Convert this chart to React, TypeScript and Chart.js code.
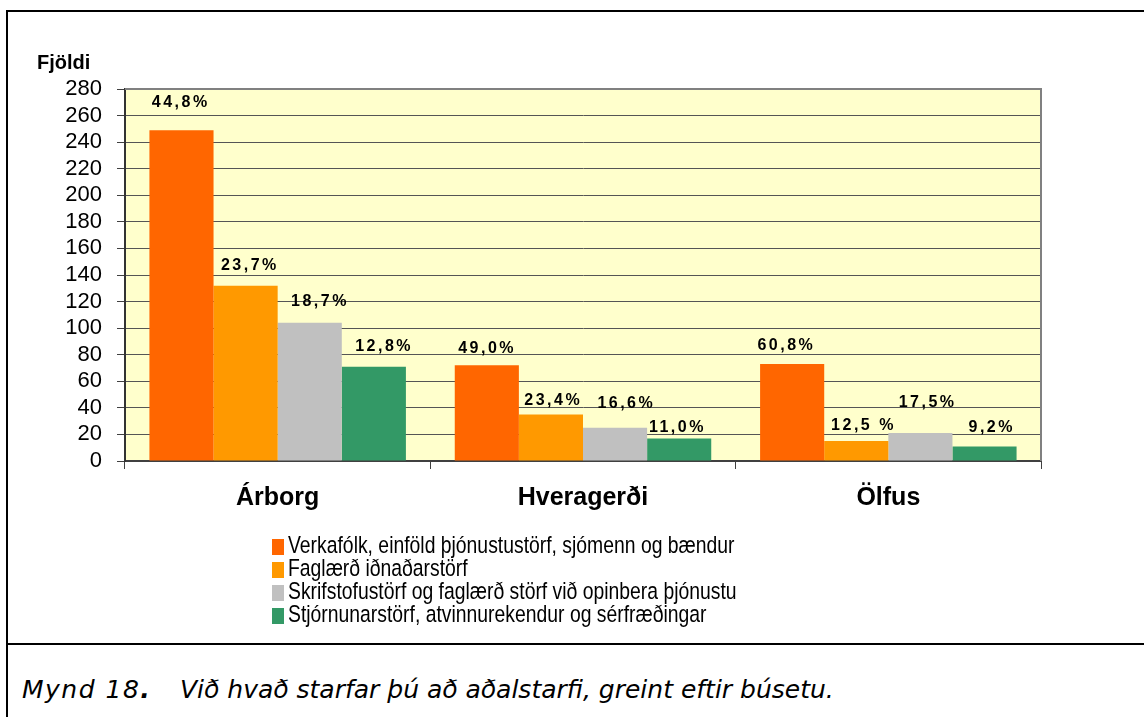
import React, { useEffect, useRef } from "react";
import { Chart, registerables } from "chart.js";

Chart.register(...registerables);

// ---- data ----
const CATEGORIES = ["Árborg", "Hveragerði", "Ölfus"];
const SERIES_NAMES = [
  "Verkafólk, einföld þjónustustörf, sjómenn og bændur",
  "Faglærð iðnaðarstörf",
  "Skrifstofustörf og faglærð störf við opinbera þjónustu",
  "Stjórnunarstörf, atvinnurekendur og sérfræðingar",
];
const VERKAFOLK = [249, 72, 73];
const FAGLAERD_IDN = [132, 35, 15];
const SKRIFSTOFA = [104, 25, 21];
const STJORNUN = [71, 17, 11];

const PCT_VERKAFOLK = ["44,8%", "49,0%", "60,8%"];
const PCT_FAGLAERD_IDN = ["23,7%", "23,4%", "12,5 %"];
const PCT_SKRIFSTOFA = ["18,7%", "16,6%", "17,5%"];
const PCT_STJORNUN = ["12,8%", "11,0%", "9,2%"];

const Y_MIN = 0;
const Y_MAX = 280;
const Y_STEP = 20;
const Y_TITLE = "Fjöldi";

// ---- styling ----
const COLORS = ["#FF6600", "#FF9900", "#C0C0C0", "#339966"];
// manual label nudges (px) as placed in the original
const LABEL_DX = [
  [-2, -1, -7],
  [3, 1, 6],
  [9, 10, 6],
  [9, -3, 6],
];
const LABEL_LIFT = [
  [28, 17, 18],
  [20, 14, 15],
  [21, 24, 31],
  [20, 11, 19],
];

const SANS = "'Liberation Sans', Arial, sans-serif";

const decorPlugin = {
  id: "decor",
  beforeDraw(chart: any) {
    const { ctx, chartArea: a } = chart;
    ctx.save();
    ctx.fillStyle = "#FFFFCC";
    ctx.fillRect(a.left, a.top, a.right - a.left, a.bottom - a.top);
    ctx.restore();
  },
  afterDatasetsDraw(chart: any) {
    const { ctx } = chart;
    const pcts = [PCT_VERKAFOLK, PCT_FAGLAERD_IDN, PCT_SKRIFSTOFA, PCT_STJORNUN];
    ctx.save();
    ctx.fillStyle = "#000";
    ctx.font = `bold 16px ${SANS}`;
    try {
      (ctx as any).letterSpacing = "2.5px";
    } catch (e) {}
    ctx.textAlign = "center";
    ctx.textBaseline = "middle";
    chart.data.datasets.forEach((ds: any, i: number) => {
      const meta = chart.getDatasetMeta(i);
      meta.data.forEach((el: any, j: number) => {
        ctx.fillText(pcts[i][j], el.x + LABEL_DX[i][j] + 1.25, el.y - LABEL_LIFT[i][j]);
      });
    });
    ctx.restore();
  },
  afterDraw(chart: any) {
    const { ctx, chartArea: a } = chart;
    ctx.save();
    // plot frame (top & right)
    ctx.strokeStyle = "#808080";
    ctx.lineWidth = 2;
    ctx.beginPath();
    ctx.moveTo(a.left, a.top);
    ctx.lineTo(a.right, a.top);
    ctx.lineTo(a.right, a.bottom);
    ctx.stroke();

    // y title
    ctx.fillStyle = "#000";
    ctx.font = `bold 20px ${SANS}`;
    ctx.textAlign = "left";
    ctx.textBaseline = "alphabetic";
    ctx.fillText(Y_TITLE, 37, 69);

    // legend
    const boxX = 272;
    const textX = 288;
    const base0 = 553;
    const step = 23;
    chart.data.datasets.forEach((ds: any, i: number) => {
      const by = base0 + step * i;
      ctx.fillStyle = ds.backgroundColor;
      ctx.fillRect(boxX, by - 14, 12, 16);
      ctx.save();
      ctx.translate(textX, by);
      ctx.scale(0.79, 1);
      ctx.fillStyle = "#000";
      ctx.font = `24.5px ${SANS}`;
      ctx.fillText(ds.label, 0, 0);
      ctx.restore();
    });
    ctx.restore();
  },
};

export default function App() {
  const ref = useRef<HTMLCanvasElement | null>(null);

  useEffect(() => {
    if (!ref.current) return;
    const series = [VERKAFOLK, FAGLAERD_IDN, SKRIFSTOFA, STJORNUN];
    const chart = new Chart(ref.current, {
      type: "bar",
      data: {
        labels: CATEGORIES,
        datasets: series.map((d, i) => ({
          label: SERIES_NAMES[i],
          data: d,
          backgroundColor: COLORS[i],
          borderWidth: 0,
          categoryPercentage: 0.84,
          barPercentage: 1,
        })),
      },
      options: {
        animation: false,
        responsive: false,
        devicePixelRatio: 1,
        layout: { padding: { left: 0, top: 89, right: 103, bottom: 0 } },
        plugins: {
          legend: { display: false },
          tooltip: { enabled: false },
        },
        scales: {
          x: {
            afterFit: (s: any) => {
              s.height = 179;
            },
            grid: {
              offset: true,
              drawOnChartArea: false,
              drawTicks: true,
              tickLength: 8,
              color: "#404040",
              lineWidth: 1,
            },
            border: { display: true, color: "#404040", width: 2 },
            ticks: {
              color: "#000",
              font: { family: SANS, size: 25, weight: "bold" },
              padding: 14,
            },
          },
          y: {
            min: Y_MIN,
            max: Y_MAX,
            afterFit: (s: any) => {
              s.width = 125;
            },
            ticks: {
              stepSize: Y_STEP,
              autoSkip: false,
              color: "#000",
              font: { family: SANS, size: 22 },
              padding: 15,
            },
            grid: {
              color: "#555555",
              lineWidth: 1,
              tickLength: 8,
              tickColor: "#404040",
            },
            border: { display: true, color: "#333333", width: 2 },
          },
        },
      },
      plugins: [decorPlugin],
    });
    return () => chart.destroy();
  }, []);

  return (
    <div
      style={{
        position: "absolute",
        left: 0,
        top: 0,
        width: 1144,
        height: 717,
        background: "#fff",
        overflow: "hidden",
      }}
    >
      <canvas
        ref={ref}
        width={1144}
        height={640}
        style={{ position: "absolute", left: 0, top: 0, width: 1144, height: 640, display: "block" }}
      />
      <div style={{ position: "absolute", left: 6, top: 10, width: 1138, height: 2, background: "#000" }} />
      <div style={{ position: "absolute", left: 6, top: 10, width: 2, height: 707, background: "#000" }} />
      <div style={{ position: "absolute", left: 6, top: 643, width: 1138, height: 2, background: "#000" }} />
      <div
        style={{
          position: "absolute",
          left: 22,
          top: 675,
          fontFamily: "'DejaVu Sans', Verdana, sans-serif",
          fontStyle: "italic",
          fontSize: 25,
          lineHeight: "30px",
          whiteSpace: "pre",
          color: "#000",
        }}
      >
        <span style={{ display: "inline-block", width: 158, letterSpacing: "1.5px" }}>
          Mynd 18<b>.</b>
        </span>
        {"Við hvað starfar þú að aðalstarfi, greint eftir búsetu."}
      </div>
    </div>
  );
}
